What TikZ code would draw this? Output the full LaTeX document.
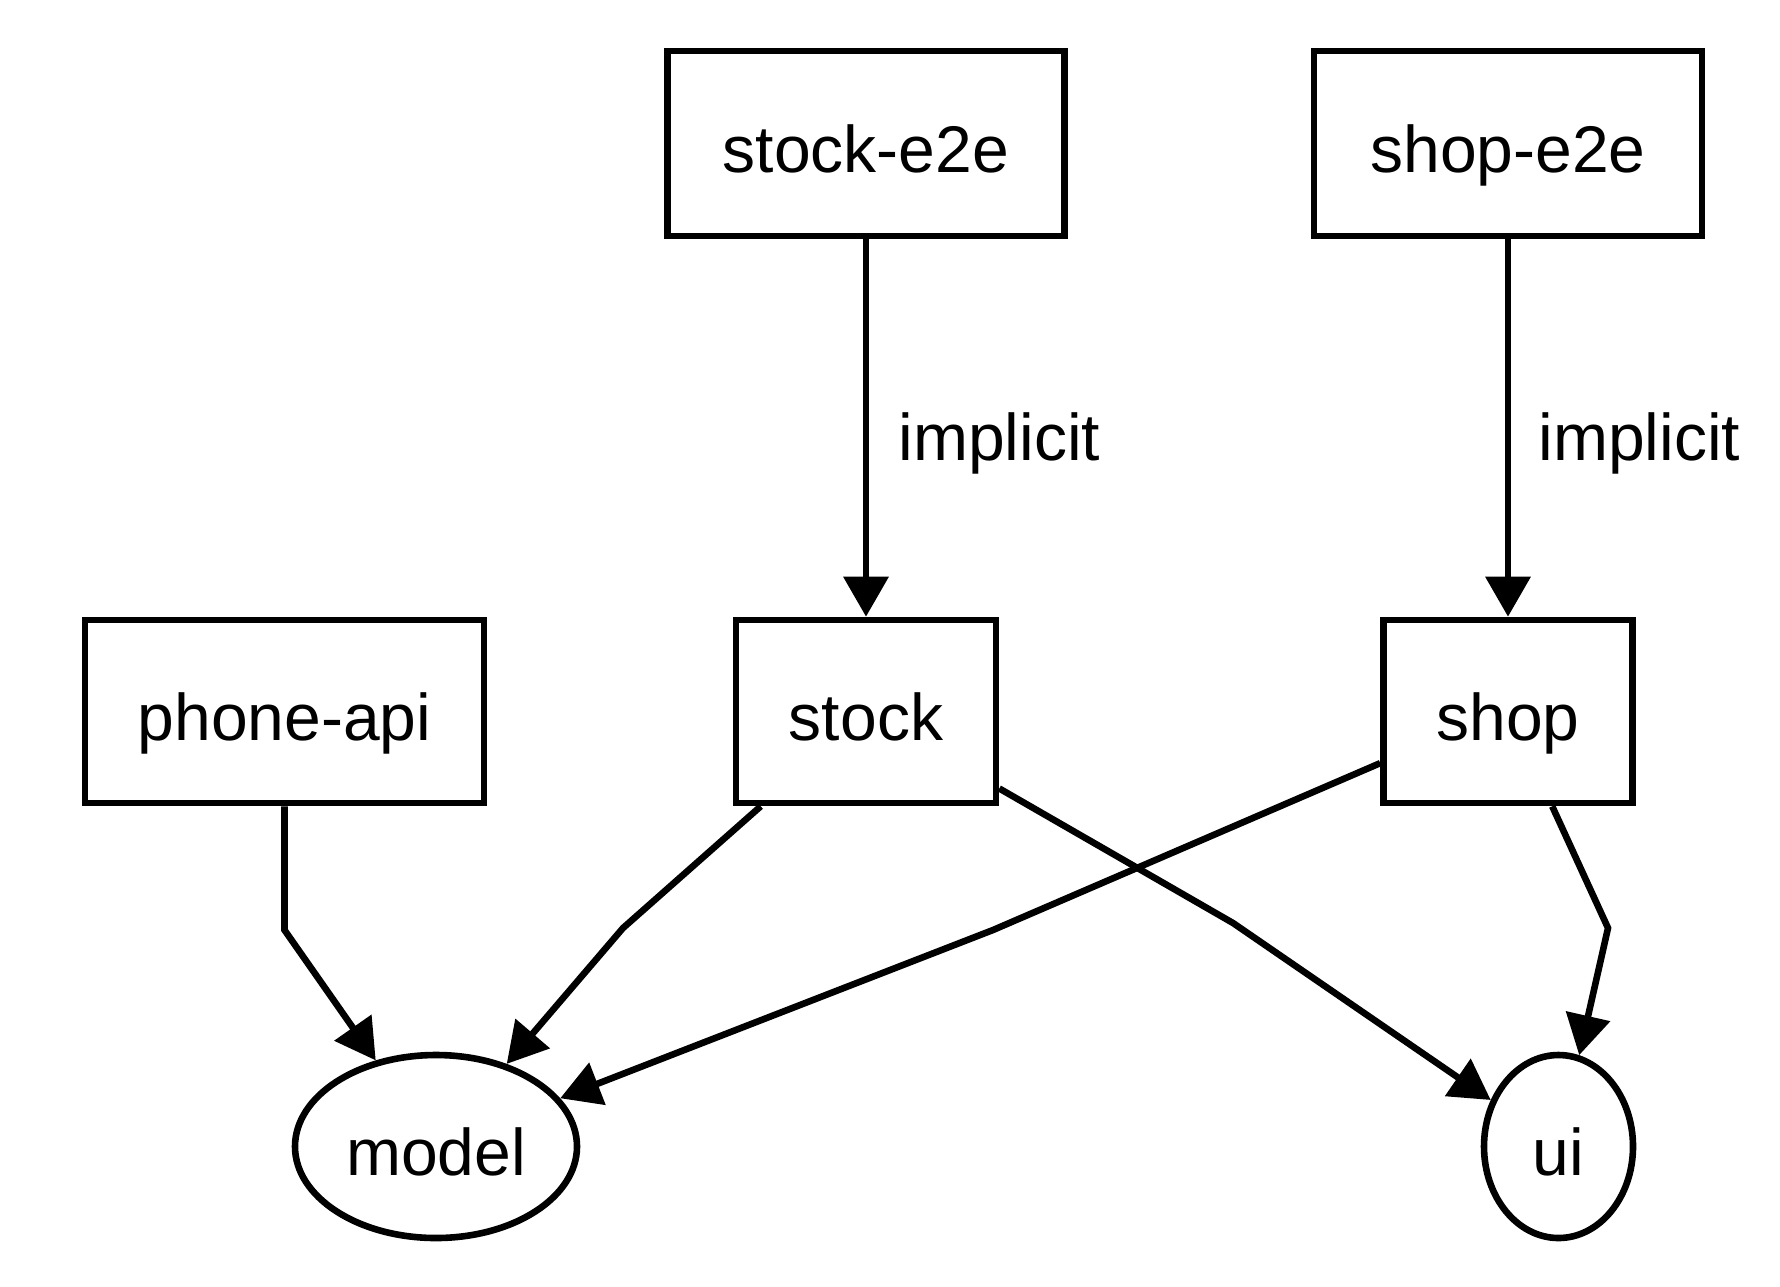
\documentclass[tikz,border=0pt]{standalone}
\usepackage{fontspec}
\setmainfont{Liberation Sans}
\usetikzlibrary{arrows.meta,shapes.geometric}
\begin{document}
\begin{tikzpicture}[x=0.5pt,y=-0.5pt,
  lbl/.style={font=\fontsize{33}{40}\selectfont},
  box/.style={lbl,draw,line width=3.3pt,rectangle,inner sep=0pt,text height=28.5pt,text depth=0pt},
  oval/.style={lbl,draw,line width=3.3pt,ellipse,inner sep=0pt,minimum height=91.5pt,text height=28.5pt,text depth=0pt},
  conn/.style={line width=3.3pt,-{Triangle[length=20pt,width=22pt]}},
]
\fill[white] (0,0) rectangle (1780,1286);
\useasboundingbox (0,0) rectangle (1780,1286);

\node[box,minimum width=198.5pt,minimum height=92.5pt] (se) at (866,143.5) {stock-e2e};
\node[box,minimum width=194pt,minimum height=92.5pt] (she) at (1508,143.5) {shop-e2e};
\node[box,minimum width=199.5pt,minimum height=91.5pt] (pa) at (284.5,711.5) {phone-api};
\node[box,minimum width=130pt,minimum height=91.5pt] (stock) at (866,711.5) {stock};
\node[box,minimum width=124.5pt,minimum height=91.5pt] (shop) at (1508,711.5) {shop};
\node[oval,minimum width=141pt] (model) at (436,1146.5) {model};
\node[oval,minimum width=74.5pt] (ui) at (1558.5,1146.5) {ui};

\node[lbl,anchor=base west,inner sep=0pt] (imp1) at (898,460) {implicit};
\node[lbl,anchor=base west,inner sep=0pt] (imp2) at (1538,460) {implicit};

\draw[conn] (se) -- (stock);
\draw[conn] (she) -- (shop);

\coordinate (b1) at (284.5,930);
\coordinate (b2) at (623,928);
\coordinate (b3) at (993,930);
\coordinate (b4) at (1233,923);
\coordinate (b5) at (1608,928);

\draw[conn] (pa.south) -- (b1) -- (model);
\draw[conn] (stock.222) -- (b2) -- (model);
\draw[conn] (shop.202.8) -- (b3) -- (model);
\draw[conn] (stock.330.4) -- (b4) -- (ui);
\draw[conn] (shop.295) -- (b5) -- (ui);
\end{tikzpicture}
\end{document}
